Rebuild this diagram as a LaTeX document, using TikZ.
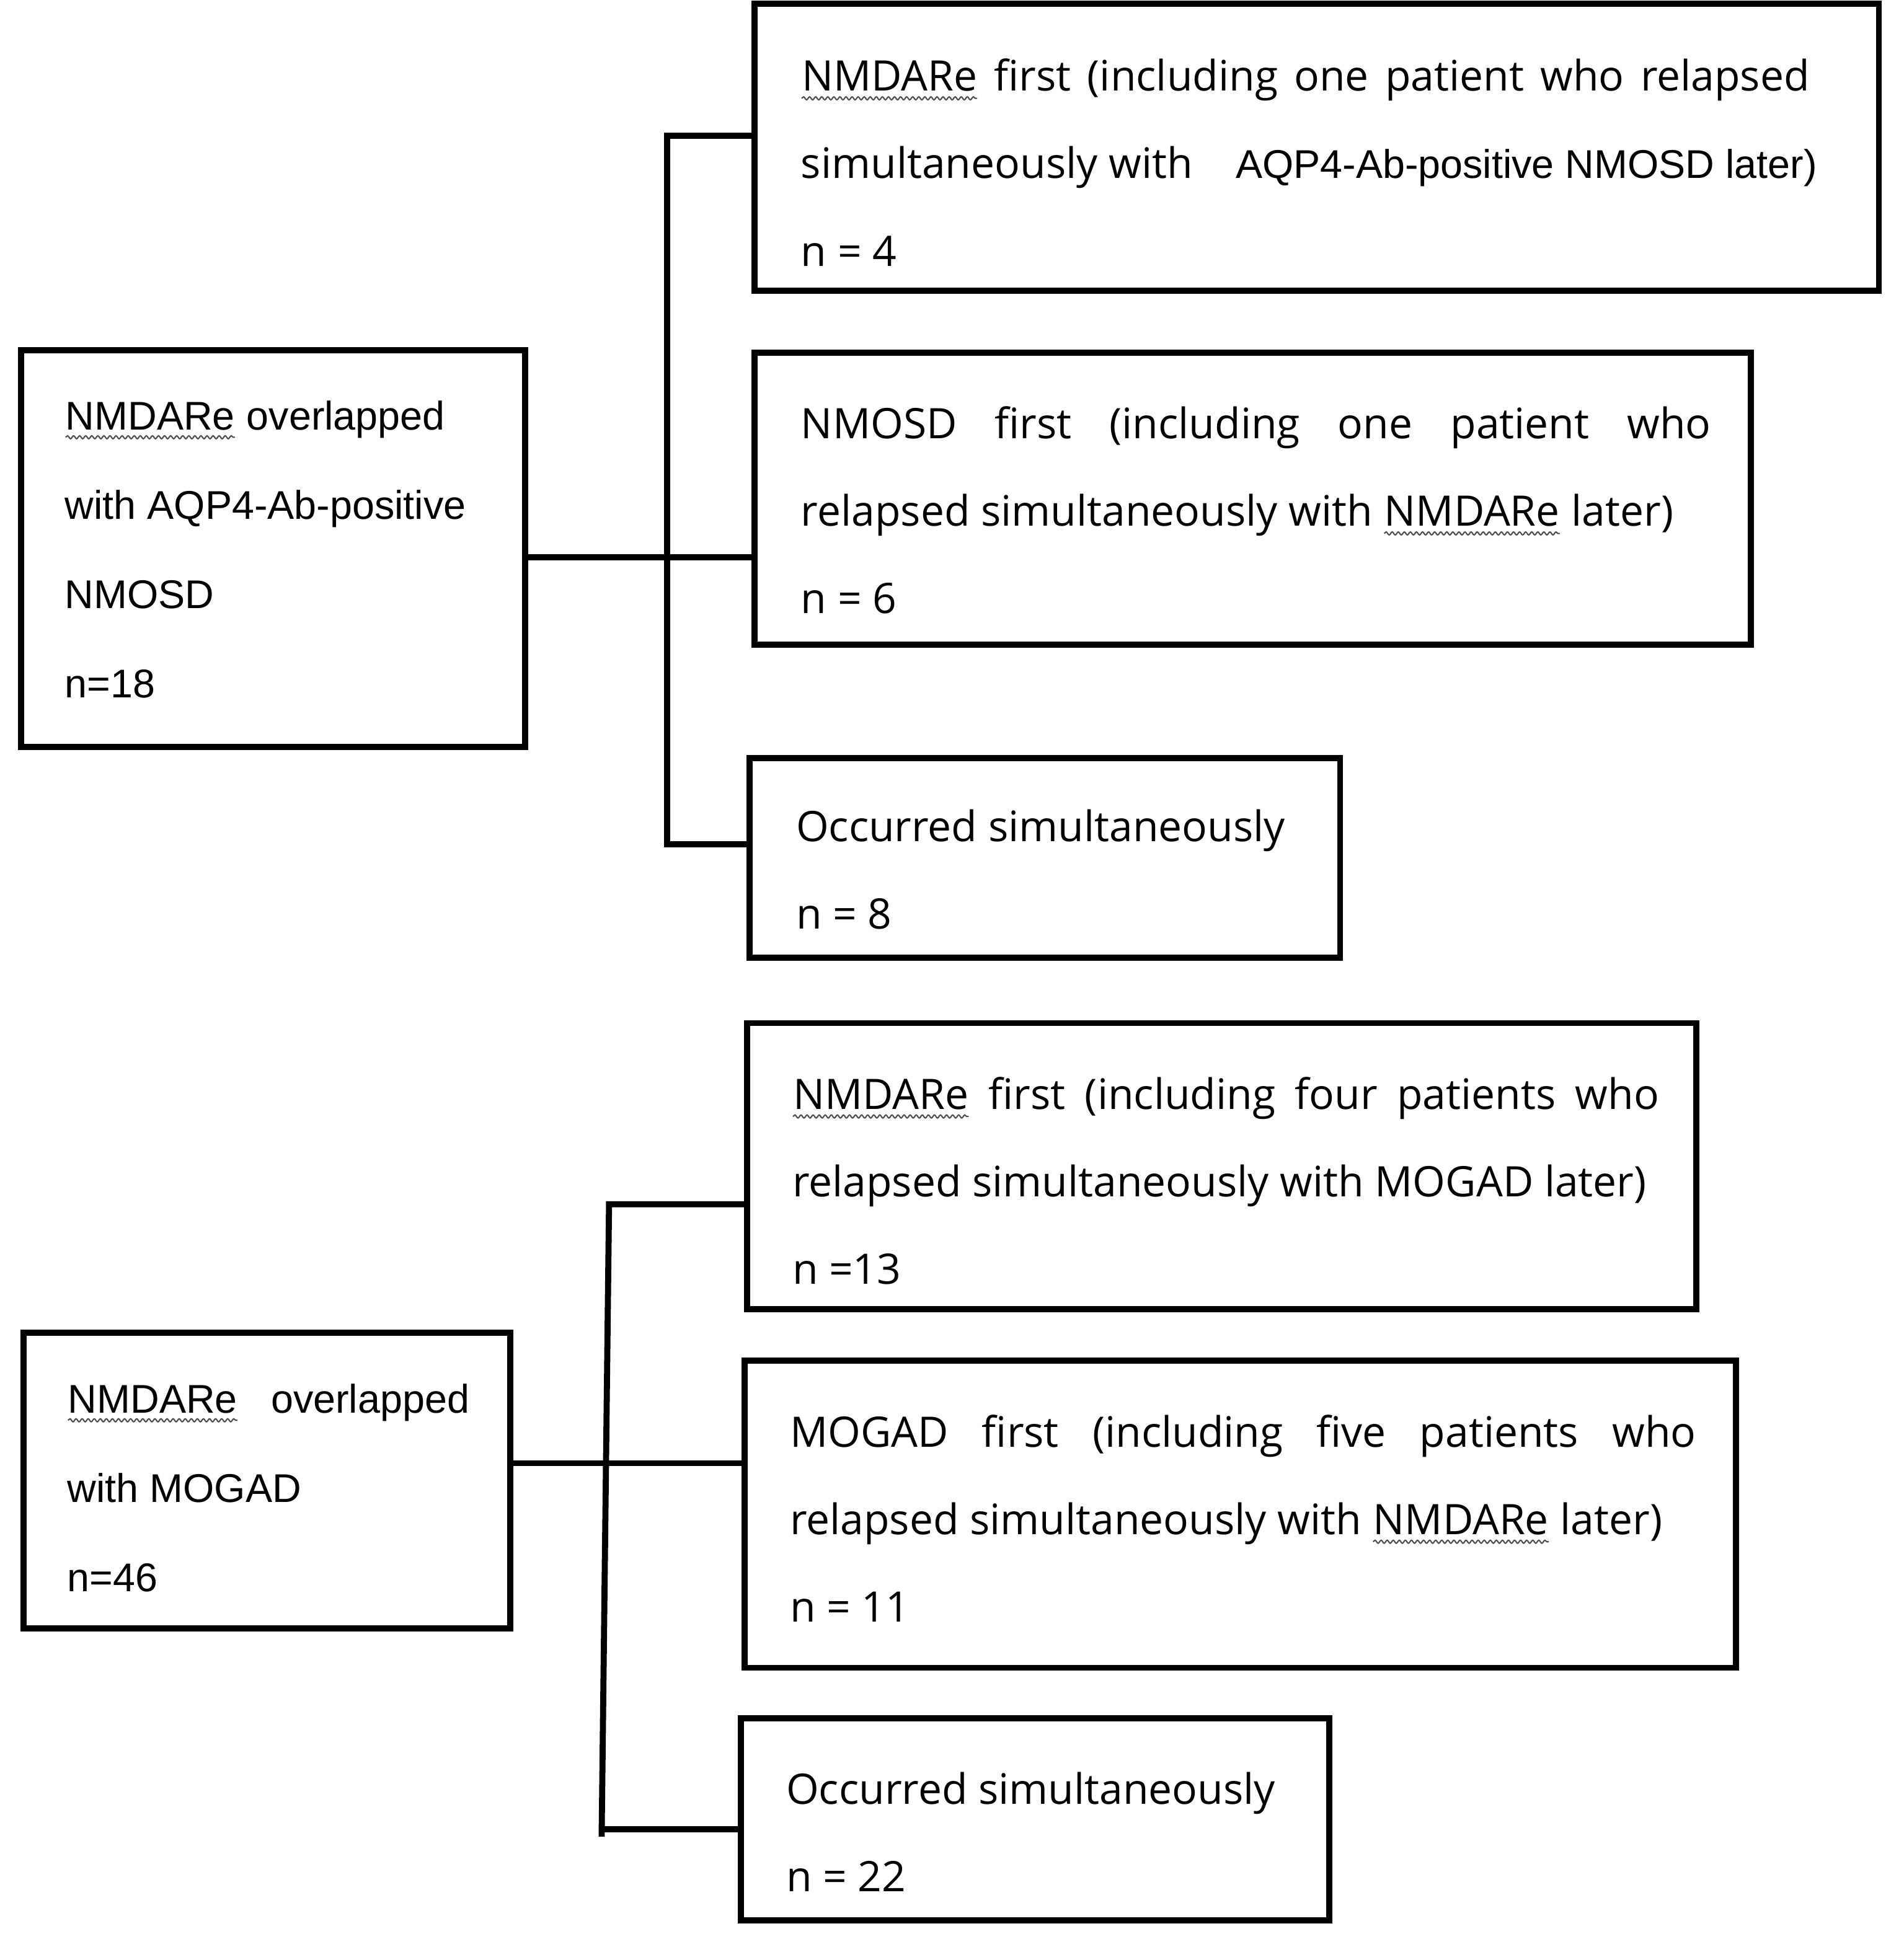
\documentclass[tikz,border=0pt]{standalone}
\usepackage{fontspec}
\setmainfont{Open Sans}
\newfontfamily\arialfont{Liberation Sans}
\usepackage{tikz}
\usetikzlibrary{calc,decorations.pathmorphing}

\newcommand{\squig}[1]{\tikz[baseline=(sq.base)]{\node[inner sep=0pt, outer sep=0pt] (sq) {#1};
  \draw[black!70, line width=0.3pt, decorate, decoration={snake, amplitude=0.35pt, segment length=1.4pt}]
    ([yshift=-1.7pt]sq.base west) -- ([yshift=-1.7pt]sq.base east);}}
\newcommand{\arial}{\arialfont\fontsize{9.25}{20.6}\selectfont}

\begin{document}
\begin{tikzpicture}[
    box/.style={draw, line width=1.4pt, inner sep=0pt, outer sep=0pt, anchor=north west},
    txt/.style={anchor=north west, inner sep=0pt, align=left, font=\fontsize{9.7}{20.2}\selectfont},
    ltxt/.style={anchor=north west, inner sep=0pt, align=left, font=\arial},
    link/.style={line width=1.4pt}]
\useasboundingbox (0,0) rectangle (15.44,-15.69);

\node (aqp) [box, minimum width=4.09cm, minimum height=3.22cm] at (0.17,-2.84) {};
\node (aqpN) [box, minimum width=9.12cm, minimum height=2.33cm] at (6.12,-0.03) {};
\node (aqpO) [box, minimum width=8.08cm, minimum height=2.37cm] at (6.12,-2.86) {};
\node (aqpS) [box, minimum width=4.79cm, minimum height=1.62cm] at (6.08,-6.15) {};

\node (mog) [box, minimum width=3.95cm, minimum height=2.40cm] at (0.19,-10.81) {};
\node (mogN) [box, minimum width=7.70cm, minimum height=2.32cm] at (6.06,-8.30) {};
\node (mogM) [box, minimum width=8.04cm, minimum height=2.49cm] at (6.04,-11.04) {};
\node (mogS) [box, minimum width=4.77cm, minimum height=1.64cm] at (6.01,-13.94) {};

\node (aqpT) [ltxt] at ($(aqp.north west)+(0.35,-0.405)$) {\squig{NMDARe} overlapped\\ with AQP4-Ab-positive\\ NMOSD\\ n=18};
\node (aqpNT) [txt] at ($(aqpN.north west)+(0.37,-0.44)$) {\makebox[8.18cm][s]{\squig{NMDARe} first (including one patient who relapsed}\\ simultaneously with\hspace{0.26cm} {\arial AQP4-Ab-positive NMOSD later)}\\ n = 4};
\node (aqpOT) [txt] at ($(aqpO.north west)+(0.37,-0.43)$) {\makebox[7.38cm][s]{NMOSD first (including one patient who}\\ relapsed simultaneously with \squig{NMDARe} later)\\ n = 6};
\node (aqpST) [txt] at ($(aqpS.north west)+(0.37,-0.41)$) {Occurred simultaneously\\ n = 8};

\node (mogT) [ltxt] at ($(mog.north west)+(0.35,-0.41)$) {\makebox[3.26cm][l]{\squig{NMDARe}\hfill overlapped}\\ with MOGAD\\ n=46};
\node (mogNT) [txt] at ($(mogN.north west)+(0.36,-0.43)$) {\makebox[7.03cm][s]{\squig{NMDARe} first (including four patients who}\\ relapsed simultaneously with MOGAD later)\\ n =13};
\node (mogMT) [txt] at ($(mogM.north west)+(0.36,-0.43)$) {\makebox[7.35cm][s]{MOGAD first (including five patients who}\\ relapsed simultaneously with \squig{NMDARe} later)\\ n = 11};
\node (mogST) [txt] at ($(mogS.north west)+(0.36,-0.43)$) {Occurred simultaneously\\ n = 22};

\coordinate (aqpTop) at (5.41,-1.10);
\coordinate (aqpMid) at (5.41,-4.52);
\coordinate (aqpBot) at (5.41,-6.85);
\draw[link] (aqpN.west |- aqpTop) -- (aqpTop) -- (aqpBot) -- (aqpS.west |- aqpBot);
\draw[link] (aqp.east |- aqpMid) -- (aqpO.west |- aqpMid);

\coordinate (mogTop) at (4.94,-9.77);
\coordinate (mogMid) at (4.91,-11.87);
\coordinate (mogBot) at (4.88,-14.84);
\coordinate (mogEnd) at (4.88,-14.90);
\draw[link] (mogN.west |- mogTop) -- (mogTop) -- (mogEnd);
\draw[link] (mogBot) -- (mogS.west |- mogBot);
\draw[link] (mog.east |- mogMid) -- (mogM.west |- mogMid);
\end{tikzpicture}
\end{document}
